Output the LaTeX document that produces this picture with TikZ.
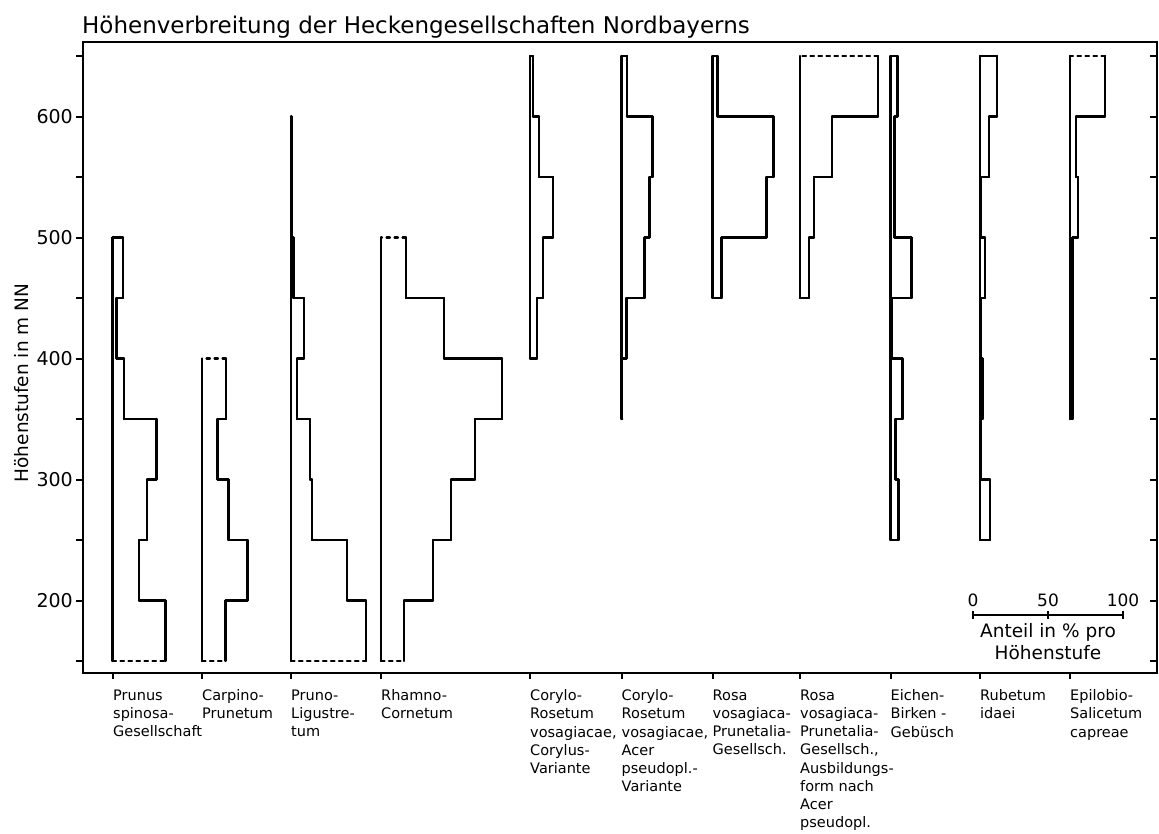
\documentclass[tikz,border=0pt]{standalone}
\usepackage{fontspec}
\setmainfont{DejaVu Sans}
\usetikzlibrary{positioning}

\tikzset{
  stufe/.style={line width=2.2pt,line cap=round,line join=round},
  offen/.style={dash pattern=on 3.5pt off 4.5pt},
  achse/.style={line width=2pt},
  gruppe/.style={anchor=north west,inner sep=0pt,align=left,font=\fontsize{14.5}{18.2}\selectfont},
  wert/.style={anchor=east,inner sep=0pt,font=\fontsize{19}{19}\selectfont},
  skala/.style={anchor=base,inner sep=0pt,font=\fontsize{17}{17}\selectfont},
}

% #1 linker Rand, #2 unterste Stufe, #3 Breiten je 50 m, #4 Stil unten, #5 Stil oben
\newcommand\profil[5]{%
  \foreach \w [count=\i from 0, remember=\w as \wv (initially 0)] in {#3} {
    \pgfmathsetmacro\ya{hy(#2+50*\i)}
    \pgfmathsetmacro\yb{hy(#2+50*\i+50)}
    \ifnum\i=0
      \draw[stufe,#4] ({#1},\ya) -- ({#1+\w},\ya);
    \else
      \draw[stufe] ({#1+\wv},\ya) -- ({#1+\w},\ya);
    \fi
    \draw[stufe] ({#1+\w},\ya) -- ({#1+\w},\yb);
    \xdef\letztew{\w}\xdef\letzteh{\yb}
  }
  \draw[stufe,#5] ({#1+\letztew},\letzteh) -- ({#1},\letzteh);
  \draw[stufe] ({#1},\letzteh) -- ({#1},{hy(#2)});
}

\begin{document}
\begin{tikzpicture}[x=1pt,y=-1pt,declare function={hy(\h)=661-(\h-150)*1.21;}]
\useasboundingbox (0,0) rectangle (1159,833);

% Rahmen und Achsen
\draw[achse] (83,42) rectangle (1157,673);
\foreach \h in {150,200,...,650} {
  \draw[achse] (76,{hy(\h)}) -- (83,{hy(\h)});
  \draw[achse] (1150,{hy(\h)}) -- (1157,{hy(\h)});
}
\foreach \h in {200,300,...,600}
  \node[wert] (h\h) at (73,{hy(\h)}) {\h};
\node[rotate=90,font=\fontsize{18.5}{18.5}\selectfont] (yachse) at (22,383) {Höhenstufen in m NN};
\node[anchor=base west,inner sep=0pt,font=\fontsize{23}{23}\selectfont] (titel) at (82,33)
  {Höhenverbreitung der Heckengesellschaften Nordbayerns};

% Profile
\profil{112.5}{150}{53,26.5,34.5,44,11.5,4,10.5}{offen}{}
\profil{202}{150}{23.5,45.5,26.5,15.5,24}{offen}{offen}
\profil{291}{150}{75,56,21,19,6,13,2.5,0.5,0.5}{offen}{}
\profil{381}{150}{23,52,70,94,121,63,25}{offen}{offen}
\profil{530}{400}{7,13,23,9,3}{}{}
\profil{621.5}{350}{0.8,5,23,28,31,5.5}{}{}
\profil{712.5}{450}{9,54,61,5}{}{}
\profil{800}{450}{9,14,32,78}{}{offen}
\profil{890.5}{250}{8,5,12,1.5,21,4,4,7}{}{}
\profil{980}{250}{10,1,2.5,0.5,5,0.5,9,17}{}{}
\profil{1070}{350}{2.5,2.5,2.5,8,6,35}{}{offen}

% Gesellschaften
\foreach \x in {113,202,291,381,530,621.5,712.5,800,890.5,980,1070}
  \draw[achse] (\x,673) -- (\x,679);
\node[gruppe] (prunus) at (113,689.5) {Prunus\\spinosa-\\Gesellschaft};
\node[gruppe] (carpino) at (202,689.5) {Carpino-\\Prunetum};
\node[gruppe] (pruno) at (291,689.5) {Pruno-\\Ligustre-\\tum};
\node[gruppe] (rhamno) at (381,689.5) {Rhamno-\\Cornetum};
\node[gruppe] (corylo1) at (530,689.5) {Corylo-\\Rosetum\\vosagiacae,\\Corylus-\\Variante};
\node[gruppe] (corylo2) at (621.5,689.5) {Corylo-\\Rosetum\\vosagiacae,\\Acer\\pseudopl.-\\Variante};
\node[gruppe] (rosa1) at (712.5,689.5) {Rosa\\vosagiaca-\\Prunetalia-\\Gesellsch.};
\node[gruppe] (rosa2) at (800,689.5) {Rosa\\vosagiaca-\\Prunetalia-\\Gesellsch.,\\Ausbildungs-\\form nach\\Acer\\pseudopl.};
\node[gruppe] (eichen) at (890.5,689.5) {Eichen-\\Birken -\\Gebüsch};
\node[gruppe] (rubetum) at (980,689.5) {Rubetum\\idaei};
\node[gruppe] (epilobio) at (1070,689.5) {Epilobio-\\Salicetum\\capreae};

% Massstab
\coordinate (m0) at (973,615);
\coordinate (m50) at (1048,615);
\coordinate (m100) at (1123,615);
\draw[achse] (m0) -- (m100);
\foreach \m in {m0,m50,m100}
  \draw[achse] ([yshift=4pt]\m) -- ([yshift=-4pt]\m);
\node[skala] (n0) at (973,606) {0};
\node[skala] (n50) at (1048,606) {50};
\node[skala] (n100) at (1123,606) {100};
\node[skala,font=\fontsize{18.5}{18.5}\selectfont] (anteil) at (1048,637) {Anteil in \% pro};
\node[skala,font=\fontsize{18.5}{18.5}\selectfont] (stufe) at (1048,659) {Höhenstufe};
\end{tikzpicture}
\end{document}
